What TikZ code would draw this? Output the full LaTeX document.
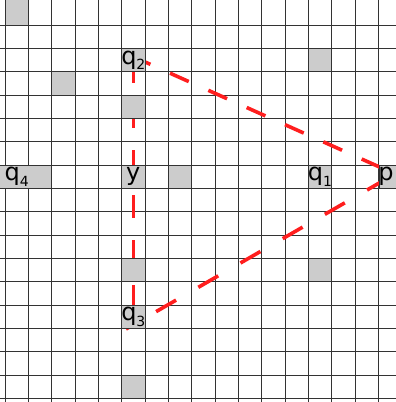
\documentclass[tikz,border=0pt]{standalone}
\usepackage{fontspec}
\setmainfont{DejaVu Sans}
\definecolor{dashred}{RGB}{255,30,30}
\definecolor{cellgrey}{RGB}{204,204,204}
\newcommand\labsub[1]{\raisebox{-5.5pt}{\fontsize{14}{14}\selectfont #1}}
\begin{document}
\begin{tikzpicture}[x=1pt,y=-1pt,
  gridline/.style={draw=black!80, line width=0.9pt},
  greycell/.style={fill=cellgrey, draw=black!80, line width=0.9pt},
  redline/.style={draw=dashred, line width=3.6pt},
  lab/.style={font=\fontsize{24}{24}\selectfont, inner sep=0pt, anchor=base}]
\useasboundingbox (0,0) rectangle (396,402);
\clip (0,0) rectangle (396,402);
\fill[white] (0,0) rectangle (396,402);
% grid
\foreach \k in {0,...,16} \draw[gridline] ({5+\k*23.3333},-2) -- ({5+\k*23.3333},404);
\foreach \k in {1,...,17} \draw[gridline] (-2,{1.6667+\k*23.3333}) -- (398,{1.6667+\k*23.3333});
% dashed connectors
\coordinate (v1) at (133.33,60);
\coordinate (v2) at (133.33,317);
\coordinate (a1) at (131.7,56);
\coordinate (a2) at (392,172.6);
\coordinate (b1) at (387,178.5);
\coordinate (b2) at (126,329);
\draw[redline, dash pattern=on 23pt off 22pt] (v1) -- (v2);
\draw[redline, dash pattern=on 20.5pt off 21.5pt] (a1) -- (a2);
\draw[redline, dash pattern=on 23pt off 25.7pt] (b1) -- (b2);
% grey cells
\foreach \c/\r in {5/2,13/2,2/3,5/4,5/7,7/7,13/7,5/11,13/11,5/13,5/16}
  \draw[greycell] ({5+\c*23.3333},{1.6667+\r*23.3333}) rectangle ({5+(\c+1)*23.3333},{1.6667+(\r+1)*23.3333});
\draw[greycell] (5,-2) rectangle (28.333,25);
\draw[greycell] (379.333,165) rectangle (400,188.333);
\draw[greycell] (-2,165) rectangle (51.667,188.333);
% labels
\node[lab] (q2) at (133.33,64) {q\labsub{2}};
\node[lab] (q4) at (16.67,180.7) {q\labsub{4}};
\node[lab] (y) at (133.33,180.7) {y};
\node[lab] (q1) at (320,180.7) {q\labsub{1}};
\node[lab] (p) at (386,180.7) {p};
\node[lab] (q3) at (133.33,320.7) {q\labsub{3}};
\end{tikzpicture}
\end{document}
